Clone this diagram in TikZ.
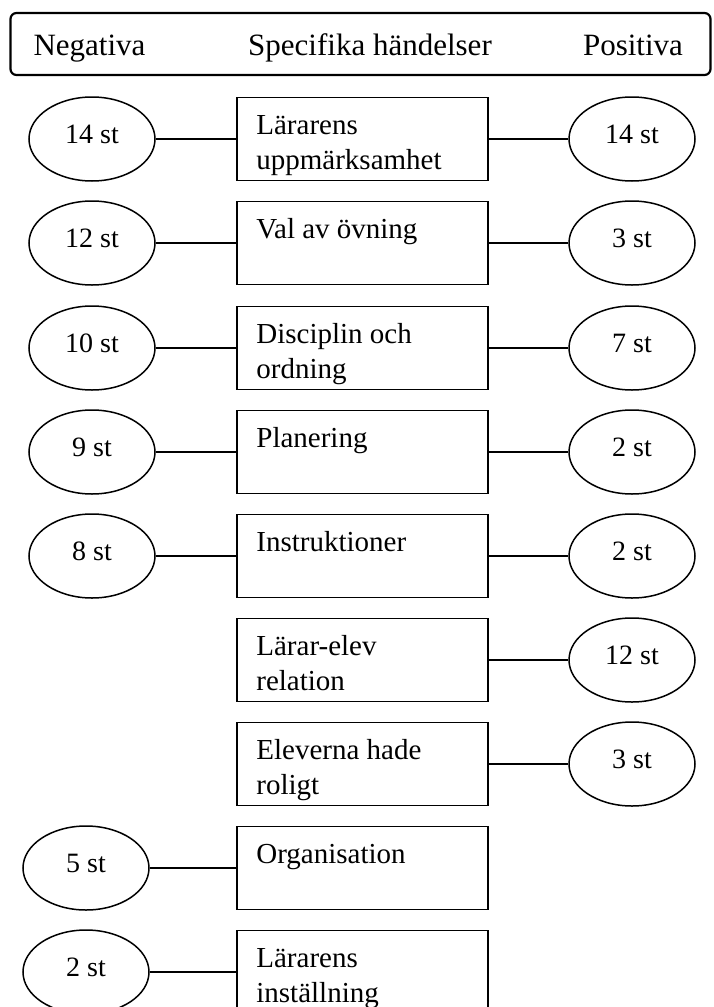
\documentclass[tikz,border=0pt]{standalone}
\usepackage{fontspec}
\setmainfont{Liberation Serif}
\usetikzlibrary{shapes.geometric}
\begin{document}
\begin{tikzpicture}[x=1pt,y=-1pt,
  hdr/.style={draw,line width=2.2pt,rounded corners=6pt},
  hdrtext/.style={anchor=base,inner sep=0pt,font=\fontsize{31}{36}\selectfont},
  evt/.style={draw,line width=1.6pt,minimum width=251pt,minimum height=83pt,inner sep=0pt},
  evttext/.style={anchor=base west,inner sep=0pt,font=\fontsize{29}{35}\selectfont},
  cnt/.style={draw,ellipse,line width=1.5pt,minimum width=126pt,minimum height=84pt,inner sep=0pt,text depth=9pt,font=\fontsize{28}{32}\selectfont},
  link/.style={line width=1.5pt}]
\useasboundingbox (0,0) rectangle (713,1007);
\clip (0,0) rectangle (713,1007);
% header
\node[hdr,minimum width=700pt,minimum height=62pt] (head) at (360.5,44) {};
\node[hdrtext] (hn) at (89.5,55) {Negativa};
\node[hdrtext] (hs) at (370,55) {Specifika händelser};
\node[hdrtext] (hp) at (633,55) {Positiva};
% rows
\foreach \i/\y/\neg/\txt/\pos/\nx in {
  1/139/14 st/{Lärarens\\uppmärksamhet}/14 st/92,
  2/243/12 st/{Val av övning}/3 st/92,
  3/348/10 st/{Disciplin och\\ordning}/7 st/92,
  4/452/9 st/{Planering}/2 st/92,
  5/556/8 st/{Instruktioner}/2 st/92,
  6/660/{}/{Lärar-elev\\relation}/12 st/92,
  7/764/{}/{Eleverna hade\\roligt}/3 st/92,
  8/868/5 st/{Organisation}/{}/86,
  9/972/2 st/{Lärarens\\inställning}/{}/86} {
  \node[evt] (b\i) at (362.5,\y) {};
  \node[evttext] (t\i) at ([xshift=20pt,yshift=-38pt]b\i.north west) {\parbox[t]{225pt}{\raggedright \txt}};
  \if\relax\detokenize\expandafter{\neg}\relax\else
    \node[cnt] (n\i) at (\nx,\y) {\neg};
    \draw[link] (n\i) -- (b\i);
  \fi
  \if\relax\detokenize\expandafter{\pos}\relax\else
    \node[cnt] (p\i) at (632,\y) {\pos};
    \draw[link] (b\i) -- (p\i);
  \fi
}
\end{tikzpicture}
\end{document}
